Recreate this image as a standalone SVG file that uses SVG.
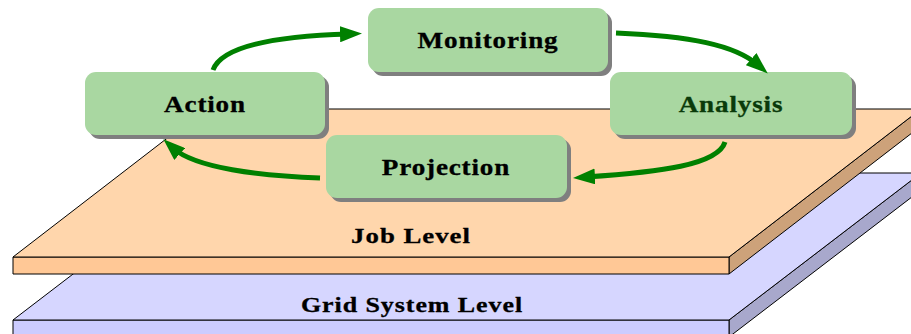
<svg xmlns="http://www.w3.org/2000/svg" width="911" height="334" viewBox="0 0 911 334">
  <style>
    .edge { stroke: #000; stroke-width: 1; stroke-linejoin: miter; }
    .box { fill: #A9D7A1; }
    .shadow { fill: #7f7f7f; }
    .label { font-family: "Liberation Serif", "Times New Roman", serif; font-weight: bold; font-size: 23px; letter-spacing: 0.7px; text-anchor: middle; fill: #000; stroke: #000; stroke-width: 0.3; }
    .plate-label { font-family: "Liberation Serif", "Times New Roman", serif; font-weight: bold; font-size: 22px; letter-spacing: 0.8px; text-anchor: middle; fill: #000; stroke: #000; stroke-width: 0.3; }
    .flow { fill: none; stroke: #008000; stroke-width: 5; stroke-linecap: butt; marker-end: url(#head); }
  </style>
  <defs>
    <marker id="head" markerUnits="userSpaceOnUse" viewBox="0 0 22 16" markerWidth="22" markerHeight="16" refX="9" refY="8" orient="auto">
      <path d="M0,0 L22,8 L0,16 Z" fill="#008000"/>
    </marker>
  </defs>

  <rect width="911" height="334" fill="#fff"/>

  <!-- lower plate: grid system level -->
  <g id="grid-level">
    <polygon class="edge" points="729,337 921,190 921,173 729,320" fill="#A8A8CC"/>
    <polygon class="edge" points="13,320 729,320 729,340 13,340" fill="#CCCCFF"/>
    <polygon class="edge" points="13,320 729,320 921,173 205,173" fill="#D6D6FF"/>
    <text class="plate-label" transform="translate(412,312) scale(1.18,1)">Grid System Level</text>
  </g>

  <!-- upper plate: job level -->
  <g id="job-level">
    <polygon class="edge" points="729,274 921,126 921,109 729,257" fill="#CDA27A"/>
    <polygon class="edge" points="13,257 729,257 729,274 13,274" fill="#FFC896"/>
    <polygon class="edge" points="13,257 729,257 921,109 205,109" fill="#FFD6AC"/>
    <text class="plate-label" transform="translate(411,243) scale(1.22,1)">Job Level</text>
  </g>

  <!-- cycle steps -->
  <g id="action">
    <rect class="shadow" x="89" y="76" width="240" height="63" rx="11"/>
    <rect class="box" x="85" y="72" width="240" height="63" rx="11"/>
    <text class="label" transform="translate(205,112) scale(1.18,1)">Action</text>
  </g>
  <g id="monitoring">
    <rect class="shadow" x="372" y="12" width="240" height="64" rx="11"/>
    <rect class="box" x="368" y="8" width="240" height="64" rx="11"/>
    <text class="label" transform="translate(488,48) scale(1.18,1)">Monitoring</text>
  </g>
  <g id="analysis">
    <rect class="shadow" x="614" y="76" width="242" height="63" rx="11"/>
    <rect class="box" x="610" y="72" width="242" height="63" rx="11"/>
    <text class="label" transform="translate(731,112) scale(1.18,1)" style="fill:#0A3A0A;stroke:#0A3A0A">Analysis</text>
  </g>
  <g id="projection">
    <rect class="shadow" x="330" y="139" width="241" height="63" rx="11"/>
    <rect class="box" x="326" y="135" width="241" height="63" rx="11"/>
    <text class="label" transform="translate(446,175) scale(1.18,1)">Projection</text>
  </g>

  <!-- connectors -->
  <g id="connectors">
    <path class="flow" d="M213,70 C222,45 280,36 349,34"/>
    <path class="flow" d="M616,33 C690,36 735,45 758,65"/>
    <path class="flow" d="M725,142 C718,165 660,172 586,177"/>
    <path class="flow" d="M320,178 C260,176 195,168 173,148"/>
  </g>
</svg>
